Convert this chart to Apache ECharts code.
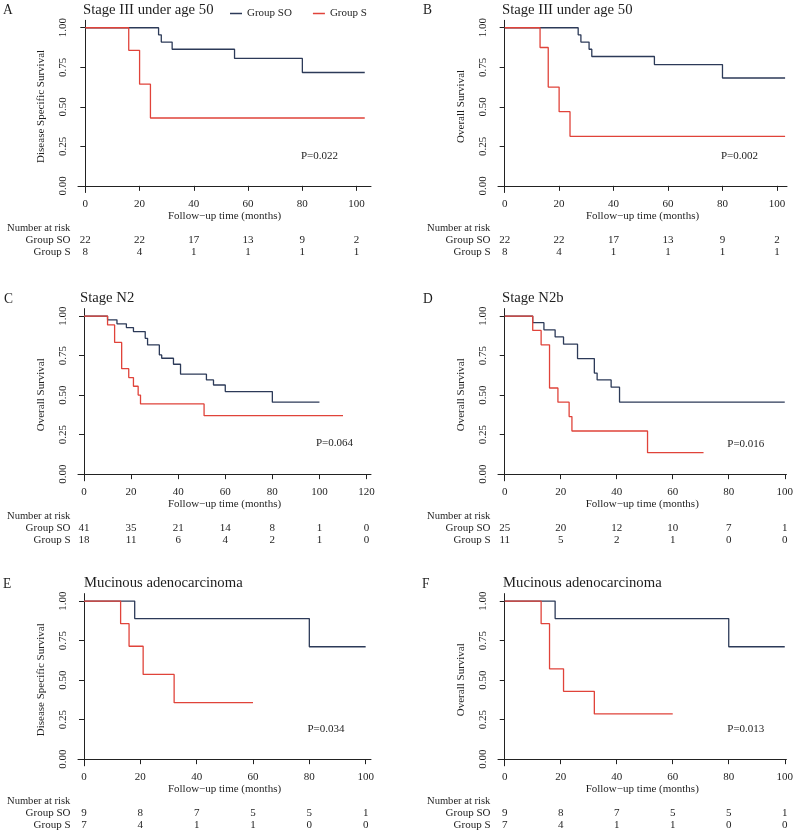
<!doctype html>
<html>
<head>
<meta charset="utf-8">
<title>KM curves</title>
<script src="https://cdn.jsdelivr.net/npm/echarts@6/dist/echarts.min.js"></script>
<style>
  body { margin: 0; background: #fff; }
  #chart { width: 796px; height: 834px; }
</style>
</head>
<body>
<div id="chart"></div>
<script>
// ---- data ----
var ticks100 = [0, 20, 40, 60, 80, 100];
var ticks120 = [0, 20, 40, 60, 80, 100, 120];
var yTicks = [0, 0.25, 0.5, 0.75, 1];

// A: Stage III under age 50, DSS
var aSoTime = [0, 27, 28, 32, 55, 80, 103];
var aSoSurv = [1, 0.955, 0.909, 0.864, 0.806, 0.717, 0.717];
var aSTime = [0, 16, 20, 24, 103];
var aSSurv = [1, 0.857, 0.643, 0.429, 0.429];
var aRiskSo = [22, 22, 17, 13, 9, 2];
var aRiskS = [8, 4, 1, 1, 1, 1];

// B: Stage III under age 50, OS
var bSoTime = [0, 27, 28, 31, 32, 55, 80, 103];
var bSoSurv = [1, 0.955, 0.909, 0.864, 0.818, 0.767, 0.682, 0.682];
var bSTime = [0, 13, 16, 20, 24, 103];
var bSSurv = [1, 0.875, 0.625, 0.469, 0.313, 0.313];
var bRiskSo = [22, 22, 17, 13, 9, 2];
var bRiskS = [8, 4, 1, 1, 1, 1];

// C: Stage N2, OS
var cSoTime = [0, 10, 14, 18, 21, 26, 27, 32, 33, 38, 41, 52, 55, 60, 80, 100];
var cSoSurv = [1, 0.976, 0.951, 0.927, 0.902, 0.859, 0.817, 0.754, 0.733, 0.695, 0.632, 0.596, 0.564, 0.522, 0.455, 0.455];
var cSTime = [0, 10, 13, 16, 19, 21, 23, 24, 51, 110];
var cSSurv = [1, 0.944, 0.833, 0.667, 0.611, 0.556, 0.5, 0.444, 0.37, 0.37];
var cRiskSo = [41, 35, 21, 14, 8, 1, 0];
var cRiskS = [18, 11, 6, 4, 2, 1, 0];

// D: Stage N2b, OS
var dSoTime = [0, 10, 14, 18, 21, 26, 32, 33, 38, 41, 100];
var dSoSurv = [1, 0.958, 0.913, 0.868, 0.822, 0.731, 0.639, 0.596, 0.55, 0.455, 0.455];
var dSTime = [0, 10, 13, 16, 19, 23, 24, 51, 71];
var dSSurv = [1, 0.909, 0.818, 0.545, 0.455, 0.364, 0.273, 0.136, 0.136];
var dRiskSo = [25, 20, 12, 10, 7, 1];
var dRiskS = [11, 5, 2, 1, 0, 0];

// E: Mucinous adenocarcinoma, DSS
var eSoTime = [0, 18, 80, 100];
var eSoSurv = [1, 0.889, 0.711, 0.711];
var eSTime = [0, 13, 16, 21, 32, 60];
var eSSurv = [1, 0.857, 0.714, 0.536, 0.357, 0.357];
var eRiskSo = [9, 8, 7, 5, 5, 1];
var eRiskS = [7, 4, 1, 1, 0, 0];

// F: Mucinous adenocarcinoma, OS
var fSoTime = [0, 18, 80, 100];
var fSoSurv = [1, 0.889, 0.711, 0.711];
var fSTime = [0, 13, 16, 21, 32, 60];
var fSSurv = [1, 0.857, 0.571, 0.429, 0.286, 0.286];
var fRiskSo = [9, 8, 7, 5, 5, 1];
var fRiskS = [7, 4, 1, 1, 0, 0];

var navy = '#2c3a58';
var red = '#e0433a';
var serif = '"Liberation Serif", "Times New Roman", serif';
var ink = '#1e1e1e';

function zip(t, s) {
    return t.map(function (v, i) { return [v, s[i]]; });
}

// layout per panel
var panels = [
    { letter: 'A', title: 'Stage III under age 50', yName: 'Disease Specific Survival',
      left: 78, top: 20.3, width: 293, xmin: -2.7, xmax: 105.3, ticks: ticks100,
      so: zip(aSoTime, aSoSurv), s: zip(aSTime, aSSurv), riskSo: aRiskSo, riskS: aRiskS,
      p: 'P=0.022', px: 319.5, py: 155.7, lx: 3, tx: 83 },
    { letter: 'B', title: 'Stage III under age 50', yName: 'Overall Survival',
      left: 498, top: 20.3, width: 289, xmin: -2.45, xmax: 103.7, ticks: ticks100,
      so: zip(bSoTime, bSoSurv), s: zip(bSTime, bSSurv), riskSo: bRiskSo, riskS: bRiskS,
      p: 'P=0.002', px: 739.5, py: 155.7, lx: 423, tx: 502 },
    { letter: 'C', title: 'Stage N2', yName: 'Overall Survival',
      left: 78, top: 308.6, width: 293, xmin: -2.55, xmax: 121.9, ticks: ticks120,
      so: zip(cSoTime, cSoSurv), s: zip(cSTime, cSSurv), riskSo: cRiskSo, riskS: cRiskS,
      p: 'P=0.064', px: 334.5, py: 443.3, lx: 4, tx: 80 },
    { letter: 'D', title: 'Stage N2b', yName: 'Overall Survival',
      left: 498, top: 308.6, width: 289, xmin: -2.4, xmax: 100.6, ticks: ticks100,
      so: zip(dSoTime, dSoSurv), s: zip(dSTime, dSSurv), riskSo: dRiskSo, riskS: dRiskS,
      p: 'P=0.016', px: 745.8, py: 444, lx: 423, tx: 502 },
    { letter: 'E', title: 'Mucinous adenocarcinoma', yName: 'Disease Specific Survival',
      left: 78, top: 593.6, width: 293, xmin: -2.13, xmax: 101.9, ticks: ticks100,
      so: zip(eSoTime, eSoSurv), s: zip(eSTime, eSSurv), riskSo: eRiskSo, riskS: eRiskS,
      p: 'P=0.034', px: 326, py: 729, lx: 3, tx: 84 },
    { letter: 'F', title: 'Mucinous adenocarcinoma', yName: 'Overall Survival',
      left: 498, top: 593.6, width: 289, xmin: -2.4, xmax: 100.6, ticks: ticks100,
      so: zip(fSoTime, fSoSurv), s: zip(fSTime, fSSurv), riskSo: fRiskSo, riskS: fRiskS,
      p: 'P=0.013', px: 745.8, py: 729, lx: 422, tx: 503 }
];
var gridH = 172.2;

var grids = [], xAxes = [], yAxes = [], series = [];
panels.forEach(function (p, i) {
    grids.push({ left: p.left, top: p.top, width: p.width, height: gridH });
    xAxes.push({
        type: 'value', gridIndex: i, min: p.xmin, max: p.xmax,
        name: 'Follow\u2212up time (months)', nameLocation: 'middle', nameGap: 16,
        nameTextStyle: { fontFamily: serif, fontSize: 11, color: ink },
        splitLine: { show: false },
        axisLine: { lineStyle: { color: '#222', width: 1 } },
        axisTick: { length: 5, lineStyle: { color: '#222' }, customValues: p.ticks },
        axisLabel: { customValues: p.ticks, fontFamily: serif, fontSize: 11, color: ink, margin: 6 }
    });
    yAxes.push({
        type: 'value', gridIndex: i, min: -0.042, max: 1.047,
        name: p.yName, nameLocation: 'middle', nameGap: 31,
        nameTextStyle: { fontFamily: serif, fontSize: 11, color: ink },
        splitLine: { show: false },
        axisLine: { lineStyle: { color: '#222', width: 1 } },
        axisTick: { length: 5, lineStyle: { color: '#222' }, customValues: yTicks },
        axisLabel: {
            customValues: yTicks, rotate: 90, fontFamily: serif, fontSize: 11, color: ink, margin: 9,
            formatter: function (v) { return v.toFixed(2); }
        }
    });
    series.push({
        name: 'Group SO', type: 'line', step: 'end', xAxisIndex: i, yAxisIndex: i,
        showSymbol: false, data: p.so, lineStyle: { color: navy, width: 1.3 }, itemStyle: { color: navy }
    });
    series.push({
        name: 'Group S', type: 'line', step: 'end', xAxisIndex: i, yAxisIndex: i,
        showSymbol: false, data: p.s, lineStyle: { color: red, width: 1.3 }, itemStyle: { color: red }
    });
});

var chart = echarts.init(document.getElementById('chart'));
chart.setOption({
    animation: false,
    backgroundColor: '#fff',
    legend: {
        data: ['Group SO', 'Group S'], left: 225, top: 3, icon: 'rect',
        itemWidth: 12, itemHeight: 1.5, itemGap: 21,
        textStyle: { fontFamily: serif, fontSize: 11, color: ink }
    },
    grid: grids,
    xAxis: xAxes,
    yAxis: yAxes,
    series: series
});

// texts: panel letters, titles, p-values, number-at-risk tables
function txt(text, x, y, size, align, sx) {
    return {
        type: 'text', x: x, y: y, silent: true, scaleX: sx || 1,
        style: { text: text, font: size + 'px ' + serif, fill: ink,
                 textAlign: align || 'left', textVerticalAlign: 'middle' }
    };
}
var gfx = [];
panels.forEach(function (p, i) {
    var bottom = p.top + gridH;
    gfx.push(txt(p.letter, p.lx, p.top - 10, 15, 'left', 0.9));
    gfx.push(txt(p.title, p.tx, p.top - 10, 14.7, 'left'));
    gfx.push(txt(p.p, p.px, p.py, 11, 'center'));
    gfx.push(txt('Number at risk', p.left - 71, bottom + 35.4, 11, 'left', 0.96));
    gfx.push(txt('Group SO', p.left - 7.5, bottom + 47.6, 11, 'right'));
    gfx.push(txt('Group S', p.left - 7.5, bottom + 59.4, 11, 'right'));
    p.ticks.forEach(function (t, k) {
        var px = chart.convertToPixel({ xAxisIndex: i }, t);
        gfx.push(txt(String(p.riskSo[k]), px, bottom + 47.6, 11, 'center'));
        gfx.push(txt(String(p.riskS[k]), px, bottom + 59.4, 11, 'center'));
    });
});
chart.setOption({ graphic: gfx });
</script>
</body>
</html>
